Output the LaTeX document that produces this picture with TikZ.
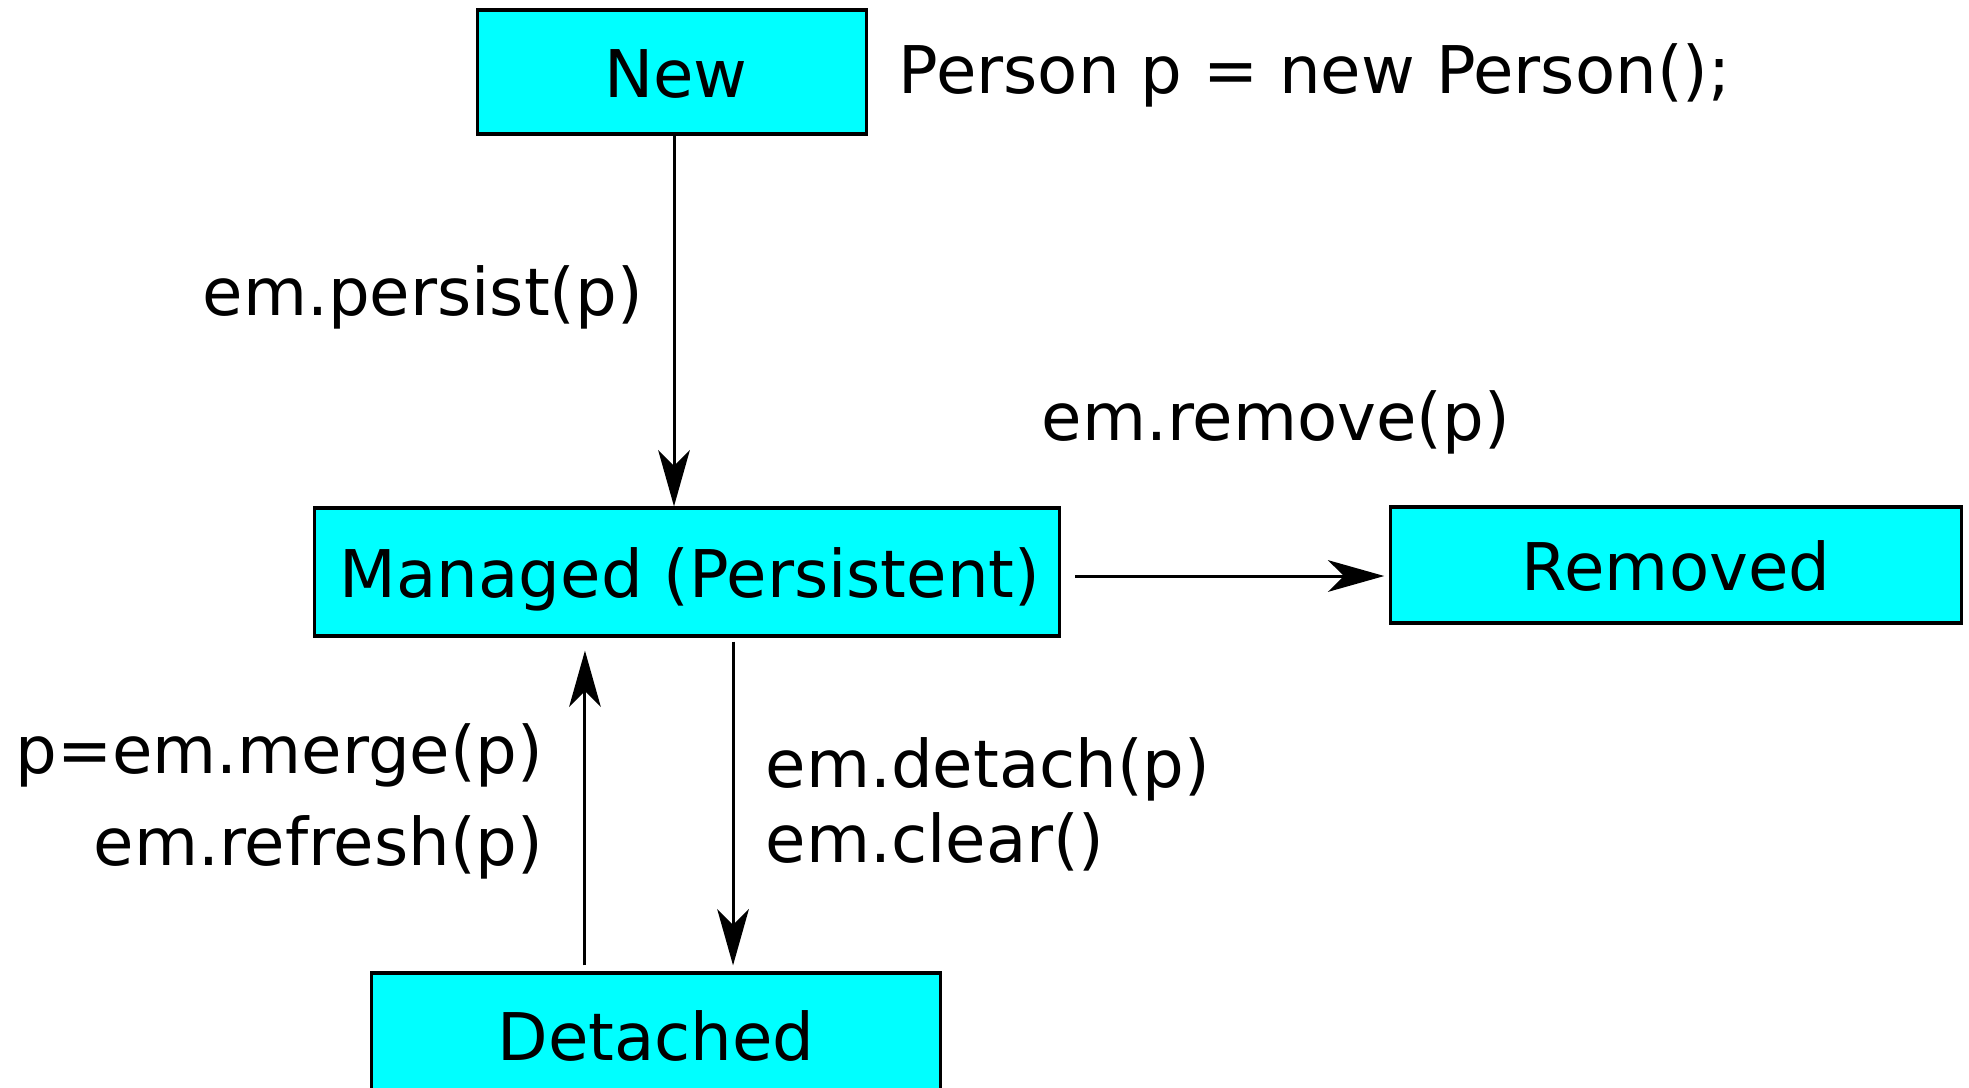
\documentclass[tikz,border=0pt]{standalone}
\usepackage{fontspec}
\setmainfont{DejaVu Sans}
\usetikzlibrary{arrows.meta}
\definecolor{aqua}{RGB}{0,255,255}
\begin{document}
\begin{tikzpicture}[x=0.01cm,y=-0.01cm,
  state/.style={draw=black, fill=aqua, line width=0.9pt, inner sep=0pt,
    text height=0.5cm, text depth=0cm, font=\fontsize{18.7}{22}\selectfont},
  lbl/.style={inner sep=0pt, font=\fontsize{18.7}{22}\selectfont},
  conn/.style={line width=0.85pt, -{Stealth[length=16pt,width=9pt,inset=4.5pt]}}]
\clip (0,0) rectangle (1969,1087);
\fill[white] (0,0) rectangle (1969,1087);
% states
\node[state, minimum width=3.88cm, minimum height=1.24cm] (new) at (672,72) {\hspace{0.08cm}New};
\node[state, minimum width=7.45cm, minimum height=1.28cm] (managed) at (687,572) {\hspace{0.06cm}Managed (Persistent)};
\node[state, minimum width=5.70cm, minimum height=1.16cm] (removed) at (1676,565) {Removed};
\node[state, minimum width=5.68cm, minimum height=1.24cm] (detached) at (656,1035) {Detached};
% labels
\node[lbl, anchor=base west] (code) at (898,93) {Person p = new Person();};
\node[lbl, anchor=base west] (persist) at (202,315) {em.persist(p)};
\node[lbl, anchor=base west] (remove) at (1041,440) {em.remove(p)};
\node[lbl, anchor=base east] (merge) at (544,773) {p=em.merge(p)};
\node[lbl, anchor=base east] (refresh) at (544,865) {em.refresh(p)};
\node[lbl, anchor=base west] (detach) at (765,787) {em.detach(p)};
\node[lbl, anchor=base west] (clear) at (765,862) {em.clear()};
% connectors
\draw[conn] ([xshift=0.02cm]new.south) -- ([xshift=0.02cm]new.south |- managed.north);
\draw[conn, shorten <=0.14cm, shorten >=0.05cm] ([yshift=-0.04cm]managed.east) -- ([yshift=-0.04cm]managed.east -| removed.west);
\draw[conn, shorten <=0.06cm, shorten >=0.13cm] ([xshift=-0.71cm]detached.north) -- ([xshift=-0.71cm]detached.north |- managed.south);
\draw[conn, shorten <=0.04cm, shorten >=0.06cm] ([xshift=0.77cm]detached.north |- managed.south) -- ([xshift=0.77cm]detached.north);
\end{tikzpicture}
\end{document}
